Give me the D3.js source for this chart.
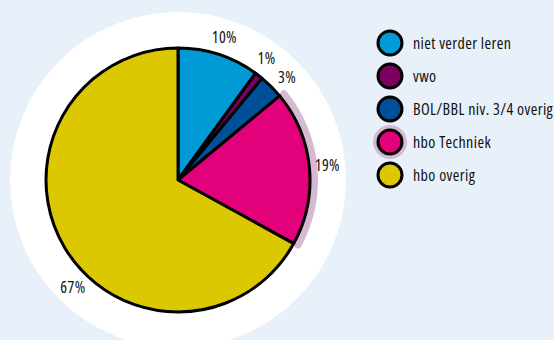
<!DOCTYPE html>
<html>
<head>
<meta charset="utf-8">
<script src="https://cdn.jsdelivr.net/npm/d3@7"></script>
<style>
  html, body { margin: 0; padding: 0; background: #e8f1f9; }
  svg { display: block; }
  text { font-family: "Open Sans", sans-serif; font-stretch: 75%; letter-spacing: 0.4px; fill: #111; }
</style>
</head>
<body>
<svg id="chart" width="554" height="340"></svg>
<script>
// Uitstroom na opleiding
const categories = ["niet verder leren", "vwo", "BOL/BBL niv. 3/4 overig", "hbo Techniek", "hbo overig"];
const values = [10, 1, 3, 19, 67];
const labels = ["10%", "1%", "3%", "19%", "67%"];
const colors = ["#009bd5", "#7c0062", "#004f99", "#e2007b", "#dcc800"];
const highlighted = "hbo Techniek";

const svg = d3.select("#chart");
const cx = 178, cy = 180, r = 132;

const g = svg.append("g").attr("transform", `translate(${cx},${cy})`);

// white disc behind the pie
g.append("circle").attr("r", 168).attr("fill", "#ffffff");

const pie = d3.pie().sort(null).value(d => d.value);
const data = pie(categories.map((c, i) => ({ name: c, value: values[i], label: labels[i], color: colors[i] })));

const arc = d3.arc().innerRadius(0).outerRadius(r);

// halo along the highlighted slice
const halo = d3.arc().innerRadius(r + 1).outerRadius(r + 8).cornerRadius(3.5);
data.filter(d => d.data.name === highlighted).forEach(d => {
  g.append("path")
    .attr("d", halo({ startAngle: d.startAngle - 0.02, endAngle: d.endAngle + 0.02 }))
    .attr("fill", "#d6b9d3");
});

g.selectAll("path.slice")
  .data(data)
  .join("path")
  .attr("class", "slice")
  .attr("d", arc)
  .attr("fill", d => d.data.color)
  .attr("stroke", "#000")
  .attr("stroke-width", 3)
  .attr("stroke-linejoin", "round");

// label angles: slice middles, the big slice's label sits lower-left,
// then neighbours that are too close are pushed apart
const deg = Math.PI / 180;
const angles = data.map(d => (d.endAngle - d.startAngle > Math.PI)
  ? d.startAngle + (d.endAngle - d.startAngle) * 0.438
  : (d.startAngle + d.endAngle) / 2);
const minGap = 10.5 * deg;
for (let i = 1; i < angles.length; i++) {
  const gap = angles[i] - angles[i - 1];
  if (gap < minGap) {
    const half = (minGap - gap) / 2;
    angles[i - 1] -= half;
    angles[i] += half;
  }
}

const labelR = 150;
g.selectAll("text.pct")
  .data(data)
  .join("text")
  .attr("class", "pct")
  .attr("font-size", 16)
  .attr("text-anchor", "middle")
  .attr("dy", "0.35em")
  .attr("transform", (d, i) => `translate(${Math.sin(angles[i]) * labelR},${-Math.cos(angles[i]) * labelR})`)
  .text(d => d.data.label);

// legend
const legend = svg.append("g").attr("transform", "translate(390,43)");
const item = legend.selectAll("g")
  .data(data)
  .join("g")
  .attr("transform", (d, i) => `translate(0,${i * 33})`);

item.filter(d => d.data.name === highlighted)
  .append("circle").attr("r", 17).attr("fill", "#d6b9d3");

item.append("circle")
  .attr("r", 12)
  .attr("fill", d => d.data.color)
  .attr("stroke", "#000")
  .attr("stroke-width", 3);

item.append("text")
  .attr("x", 23)
  .attr("dy", "0.35em")
  .attr("font-size", 16)
  .text(d => d.data.name);
</script>
</body>
</html>
